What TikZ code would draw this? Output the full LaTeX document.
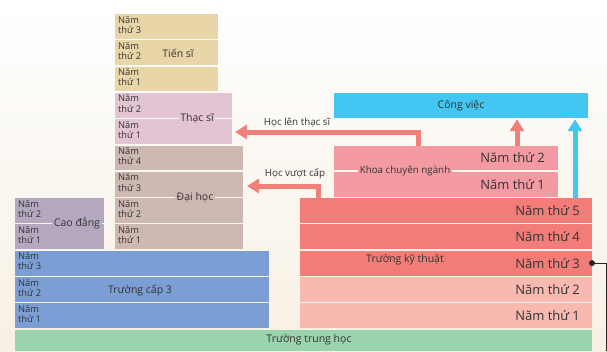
\documentclass[tikz,border=0pt]{standalone}
\usepackage{fontspec}
\setmainfont{Open Sans}
\usetikzlibrary{arrows.meta}

\definecolor{bgcream}{HTML}{F7F0E4}
\definecolor{txt}{HTML}{333333}
\definecolor{tiensi}{HTML}{E9D6A8}
\definecolor{thacsi}{HTML}{E2C4D2}
\definecolor{daihoc}{HTML}{CDB8B2}
\definecolor{caodang}{HTML}{B4A8BF}
\definecolor{capba}{HTML}{7B9ED4}
\definecolor{trunghoc}{HTML}{9AD3AE}
\definecolor{kythuat}{HTML}{F27C77}
\definecolor{kythuatnhat}{HTML}{F8B9B0}
\definecolor{khoa}{HTML}{F39AA2}
\definecolor{congviec}{HTML}{43C6F1}
\definecolor{muiten}{HTML}{F2807A}

\tikzset{
  yearbox/.style={anchor=north west, inner sep=0pt, outer sep=0pt, minimum height=24.8pt},
  yeartext/.style={anchor=north west, align=left, inner sep=0pt, text=txt,
    font=\fontsize{9.3}{10.2}\selectfont},
  bigyear/.style={anchor=east, inner sep=0pt, text=txt, font=\fontsize{13}{15}\selectfont},
  blocklabel/.style={inner sep=1.5pt, text=txt, font=\fontsize{10.5}{12}\selectfont},
  smalllabel/.style={inner sep=1.5pt, text=txt, font=\fontsize{9.8}{11}\selectfont},
  upshaft/.style={line width=5pt, -{Triangle[width=14pt,length=12pt]}},
}

\begin{document}
\begin{tikzpicture}[x=1pt, y=-1pt]
    \useasboundingbox (0,0) rectangle (607,351);
    \shade[top color=white, bottom color=bgcream] (0,0) rectangle (607,351);

    % Tien si
    \foreach \n/\k in {3/0, 2/1, 1/2} {
        \node[yearbox, fill=tiensi, minimum width=103pt] (ts\n) at (115, 14+26.3*\k) {};
        \node[yeartext] at ([xshift=3pt, yshift=-2pt]ts\n.north west) {Năm\\thứ \n};
    }
    \node[blocklabel] (tiensilbl) at (178, 53) {Tiến sĩ};

    % Thac si
    \foreach \n/\k in {2/3, 1/4} {
        \node[yearbox, fill=thacsi, minimum width=117pt] (ths\n) at (115, 14+26.3*\k) {};
        \node[yeartext] at ([xshift=3pt, yshift=-2pt]ths\n.north west) {Năm\\thứ \n};
    }
    \node[blocklabel, fill=thacsi] (thacsilbl) at (197, 118.4) {Thạc sĩ};

    % Dai hoc
    \foreach \n/\k in {4/5, 3/6, 2/7, 1/8} {
        \node[yearbox, fill=daihoc, minimum width=128pt] (dh\n) at (115, 14+26.3*\k) {};
        \node[yeartext] at ([xshift=3pt, yshift=-2pt]dh\n.north west) {Năm\\thứ \n};
    }
    \node[blocklabel, fill=daihoc] (daihoclbl) at (195, 197.3) {Đại học};

    % Cao dang
    \foreach \n/\k in {2/7, 1/8} {
        \node[yearbox, fill=caodang, minimum width=89pt] (cd\n) at (15, 14+26.3*\k) {};
        \node[yeartext] at ([xshift=3pt, yshift=-2pt]cd\n.north west) {Năm\\thứ \n};
    }
    \node[blocklabel, fill=caodang] (caodanglbl) at (77, 223.6) {Cao đẳng};

    % Truong cap 3
    \foreach \n/\k in {3/9, 2/10, 1/11} {
        \node[yearbox, fill=capba, minimum width=254pt] (cb\n) at (15, 14+26.3*\k) {};
        \node[yeartext] at ([xshift=3pt, yshift=-2pt]cb\n.north west) {Năm\\thứ \n};
    }
    \node[blocklabel] (capbalbl) at (140, 290) {Trường cấp 3};

    % Truong trung hoc
    \node[anchor=north west, inner sep=0pt, fill=trunghoc, minimum width=577pt,
        minimum height=21.4pt] (trunghoc) at (15, 329.6) {};
    \node[blocklabel] (trunghoclbl) at (309, 340) {Trường trung học};

    % Truong ky thuat
    \foreach \n/\k/\c in {5/7/kythuat, 4/8/kythuat, 3/9/kythuat, 2/10/kythuatnhat, 1/11/kythuatnhat} {
        \node[yearbox, fill=\c, minimum width=292pt] (kt\n) at (300, 14+26.3*\k) {};
        \node[bigyear] at ([xshift=-12pt]kt\n.east) {Năm thứ \n};
    }
    \node[blocklabel] (kythuatlbl) at (405, 260) {Trường kỹ thuật};

    % Khoa chuyen nganh
    \foreach \n/\k in {2/5, 1/6} {
        \node[yearbox, fill=khoa, minimum width=224pt] (kh\n) at (334, 14+26.3*\k) {};
        \node[bigyear] at ([xshift=-13pt]kh\n.east) {Năm thứ \n};
    }
    \node[smalllabel, fill=khoa] (khoalbl) at (405, 171) {Khoa chuyên ngành};

    % Cong viec
    \node[yearbox, fill=congviec, minimum width=254pt] (congviec) at (334, 92.9) {};
    \node[text=txt, font=\fontsize{10.5}{12}\selectfont] at (congviec.center) {Công việc};

    % mui ten
    \coordinate (lenbend) at (418, 132);
    \coordinate (vuotbend) at (318, 186);
    \draw[upshaft, muiten, line join=miter] (kh2.north -| lenbend) -- (lenbend) -- ([xshift=3pt]ths1.east |- lenbend);
    \node[smalllabel] (lenlbl) at (297, 123) {Học lên thạc sĩ};
    \draw[upshaft, muiten, line join=miter] (kt5.north -| vuotbend) -- (vuotbend) -- ([xshift=4pt]dh3.east |- vuotbend);
    \node[smalllabel] (vuotlbl) at (295, 174) {Học vượt cấp};

    \coordinate (hongup) at (517, 0);
    \coordinate (xanhup) at (575, 0);
    \draw[upshaft, muiten] (kh2.north -| hongup) -- ([yshift=-1.5pt]congviec.south -| hongup);
    \draw[upshaft, congviec] (kt5.north -| xanhup) -- ([yshift=-1.5pt]congviec.south -| xanhup);

    % duong noi
    \coordinate (lecanh) at (606, 351);
    \fill[black!85] (kt3.east) circle (3pt);
    \draw[black!85, line width=1pt] (kt3.east) -- (kt3.east -| lecanh) -- (lecanh);
\end{tikzpicture}
\end{document}
